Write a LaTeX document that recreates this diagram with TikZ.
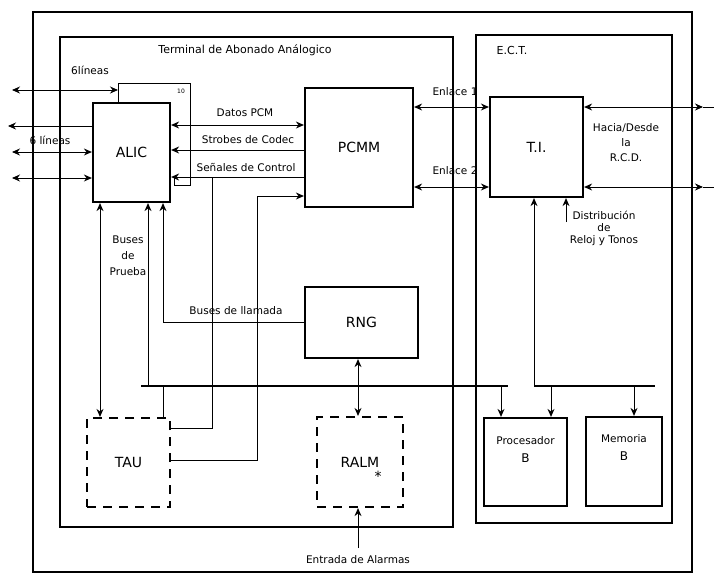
\documentclass[tikz,border=0pt]{standalone}
\usepackage{fontspec}
\setmainfont{DejaVu Sans}
\usepackage{xcolor}
\usepackage{tikz}
\usetikzlibrary{arrows.meta,positioning,calc}

\begin{document}
\begin{tikzpicture}[
  x=1pt, y=-1pt,
  font=\fontsize{10.5}{12}\selectfont,
  frame/.style={draw, line width=2.2pt},
  block/.style={draw, line width=2.2pt, inner sep=0pt, align=center,
    font=\fontsize{14}{16}\selectfont},
  dashblock/.style={block, dash pattern=on 9pt off 7pt},
  lbl/.style={inner sep=1pt, align=center},
  wire/.style={line width=0.9pt},
  bus/.style={line width=2.2pt},
  arr/.style={-{Stealth[length=8pt,width=7pt]}, wire},
  dbl/.style={{Stealth[length=8pt,width=7pt]}-{Stealth[length=8pt,width=7pt]}, wire}
]
\useasboundingbox (0,0) rectangle (714,576);

% frames
\draw[frame] (33,12) rectangle (692,572);
\draw[frame] (60,37) rectangle (453,527);
\draw[frame] (476,35) rectangle (672,523);
\node[lbl, font=\fontsize{11}{13}\selectfont] (tabtitle) at (245,50) {Terminal de Abonado Análogico};
\node[lbl, font=\fontsize{11}{13}\selectfont] (ecttitle) at (512,50) {E.C.T.};

% blocks
\node[block, minimum width=77, minimum height=99] (alic) at (131.5,152.5) {ALIC};
\node[block, minimum width=108, minimum height=119] (pcmm) at (359,147.5) {PCMM};
\node[block, minimum width=93, minimum height=100] (ti) at (536.5,147) {T.I.};
\node[block, minimum width=113, minimum height=71] (rng) at (361.5,322.5) {RNG};
\node[dashblock, minimum width=83, minimum height=89] (tau) at (128.5,462.5) {TAU};
\node[dashblock, minimum width=86, minimum height=90] (ralm) at (360,462) {RALM};
\node[lbl, font=\fontsize{14}{16}\selectfont] (star) at (378,476) {*};
\node[block, minimum width=83, minimum height=88,
  label={[lbl, yshift=12pt, font=\fontsize{10.5}{18}\selectfont]center:Procesador\\{\large B}}] (procb) at (525.5,462) {};
\node[block, minimum width=76, minimum height=89,
  label={[lbl, yshift=14pt, font=\fontsize{10.5}{18}\selectfont]center:Memoria\\{\large B}}] (memb) at (624,461.5) {};

% lines entering ALIC
\coordinate (in1) at (12,90);
\coordinate (in2) at (8,126);
\coordinate (in3) at (12,152);
\coordinate (in4) at (12,178);
\coordinate (k1) at (118,83);
\coordinate (k2) at (190,83);
\coordinate (k3) at (190,185);
\coordinate (k4) at (174,185);
\draw[wire] (alic.north -| k1) -- (k1) -- (k2) -- (k3) -- (k4) -- (k4 |- 0,177);
\draw[dbl] (in1) -- (k1 |- in1);
\draw[arr] (alic.west |- in2) -- (in2);
\draw[dbl] (in3) -- (alic.west |- in3);
\draw[dbl] (in4) -- (alic.west |- in4);
\node[lbl] (lin1) at (90,70) {6líneas};
\node[lbl] (lin2) at (50,140) {6 líneas};
\node[lbl, font=\fontsize{6}{7}\selectfont] (ten) at (181,91) {10};

% ALIC - PCMM
\draw[dbl] (alic.east |- 0,125) -- (pcmm.west |- 0,125);
\draw[arr] (pcmm.west |- 0,150) -- (alic.east |- 0,150);
\draw[arr] (pcmm.west |- 0,177) -- (alic.east |- 0,177);
\node[lbl] (datos) at (245,113) {Datos PCM};
\node[lbl] (strob) at (248,140) {Strobes de Codec};
\node[lbl] (senal) at (246,167) {Señales de Control};

% TAU
\coordinate (s1) at (212,177);
\draw[wire] (s1) |- (tau.east |- 0,428);
\draw[arr] (tau.east |- 0,460) -| (257,196) -- (pcmm.west |- 0,196);
\draw[dbl] (alic.south -| 100,0) -- (tau.north -| 100,0);
\node[lbl, font=\fontsize{10.5}{16}\selectfont] (prueba) at (128,256) {Buses\\de\\Prueba};

% bus of the terminal
\coordinate (busL) at (141,386);
\coordinate (busR) at (508,386);
\draw[bus] (busL) -- (busR);
\draw[arr] (busL -| 148,0) -- (alic.south -| 148,0);
\draw[wire] (busL -| 163,0) -- (tau.north -| 163,0);
\draw[arr] (rng.west |- 0,322) -| (alic.south -| 163,0);
\node[lbl] (llamada) at (236,311) {Buses de llamada};
\draw[arr] (busL -| 501,0) -- (procb.north -| 501,0);

% RNG - RALM
\draw[dbl] (rng.south -| 358,0) -- (ralm.north -| 358,0);
\coordinate (alarm) at (358,548);
\draw[arr] (alarm) -- (ralm.south -| alarm);
\node[lbl] (entrada) at (358,560) {Entrada de Alarmas};

% PCMM - T.I.
\draw[dbl] (pcmm.east |- 0,107) -- (ti.west |- 0,107);
\draw[dbl] (pcmm.east |- 0,187) -- (ti.west |- 0,187);
\node[lbl] (enl1) at (455,92) {Enlace 1};
\node[lbl] (enl2) at (455,171) {Enlace 2};

% T.I. - R.C.D.
\coordinate (r1) at (703,107);
\coordinate (r2) at (703,187);
\draw[dbl] (ti.east |- r1) -- (r1);
\draw[wire] (r1) -- (714,107);
\draw[dbl] (ti.east |- r2) -- (r2);
\draw[wire] (r2) -- (714,187);
\node[lbl, font=\fontsize{10.5}{15}\selectfont] (rcd) at (626,143) {Hacia/Desde\\la\\R.C.D.};

% E.C.T. bus
\coordinate (ectL) at (534,386);
\coordinate (ectR) at (655,386);
\draw[bus] (ectL) -- (ectR);
\draw[arr] (ectL) -- (ti.south -| ectL);
\coordinate (clk) at (566,222);
\draw[arr] (clk) -- (ti.south -| clk);
\node[lbl, font=\fontsize{10.5}{12}\selectfont] (reloj) at (604,228) {Distribución\\de\\Reloj y Tonos};
\draw[arr] (ectL -| 551,0) -- (procb.north -| 551,0);
\draw[arr] (ectL -| 634,0) -- (memb.north -| 634,0);
\end{tikzpicture}
\end{document}
